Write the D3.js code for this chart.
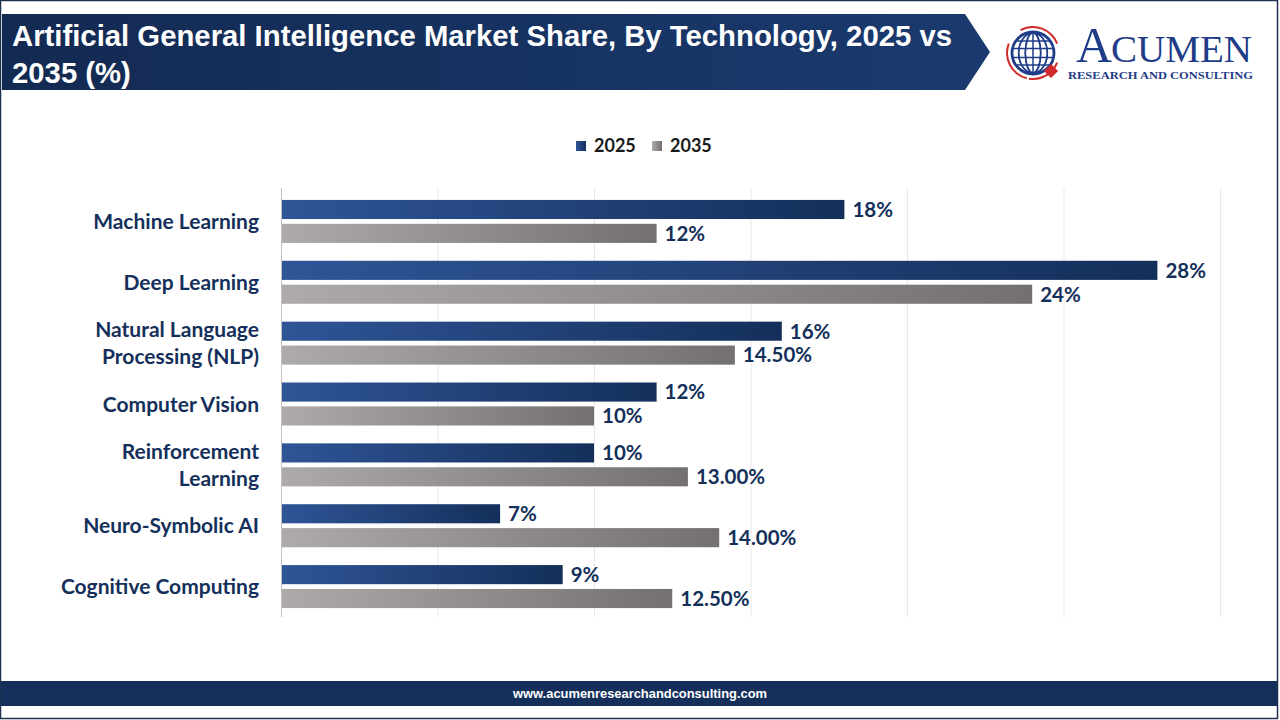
<!DOCTYPE html>
<html lang="en">
<head>
    <meta charset="utf-8">
    <title>AGI Market Share by Technology</title>
    <script type="text/javascript" src="https://d3js.org/d3.v7.min.js"></script>
    <style type="text/css">
        body { margin: 0; background: #fff; }
        svg { display: block; }
    </style>
</head>
<body>
    <script type="text/javascript">
        // chart data
        var categories = ["Machine Learning", "Deep Learning", "Natural Language Processing (NLP)",
            "Computer Vision", "Reinforcement Learning", "Neuro-Symbolic AI", "Cognitive Computing"];
        var categoryLines = [["Machine Learning"], ["Deep Learning"], ["Natural Language", "Processing (NLP)"],
            ["Computer Vision"], ["Reinforcement", "Learning"], ["Neuro-Symbolic AI"], ["Cognitive Computing"]];
        var seriesNames = ["2025", "2035"];
        var values2025 = [18, 28, 16, 12, 10, 7, 9];
        var values2035 = [12, 24, 14.5, 10, 13, 14, 12.5];
        var labels2025 = ["18%", "28%", "16%", "12%", "10%", "7%", "9%"];
        var labels2035 = ["12%", "24%", "14.50%", "10%", "13.00%", "14.00%", "12.50%"];
        var gridTicks = [0, 5, 10, 15, 20, 25, 30];

        var W = 1280, H = 720;
        var navy = "#14305a";
        var labelFont = "Lato, 'Open Sans', sans-serif";

        var svg = d3.select("body").append("svg")
            .attr("width", W)
            .attr("height", H);

        var defs = svg.append("defs");
        function grad(id, c0, c1) {
            var g = defs.append("linearGradient").attr("id", id)
                .attr("x1", "0%").attr("x2", "100%").attr("y1", "0%").attr("y2", "0%");
            g.append("stop").attr("offset", "0%").attr("stop-color", c0);
            g.append("stop").attr("offset", "100%").attr("stop-color", c1);
        }
        grad("g2025", "#2f5597", "#142f5a");
        grad("g2035", "#aeaaaa", "#747070");
        grad("gTitle", "#132a52", "#1a3a6e");

        // page border
        svg.append("rect")
            .attr("x", 0.5).attr("y", 0.5)
            .attr("width", W - 3).attr("height", H - 2)
            .attr("fill", "none")
            .attr("stroke", "#1f3350")
            .attr("stroke-width", 1.5);

        // title banner
        svg.append("path")
            .attr("d", "M2,14 L965,14 L990,52 L965,90 L2,90 Z")
            .attr("fill", "url(#gTitle)");

        var title = svg.append("text")
            .attr("font-family", "'Liberation Sans', Arial, sans-serif")
            .attr("font-weight", "bold")
            .attr("font-size", 29.3)
            .attr("fill", "#fff");
        title.append("tspan").attr("x", 12).attr("y", 46)
            .text("Artificial General Intelligence Market Share, By Technology, 2025 vs");
        title.append("tspan").attr("x", 12).attr("y", 83)
            .text("2035 (%)");

        // logo
        var logoBlue = "#1f3c88";
        var logo = svg.append("g").attr("transform", "translate(1033,53)");
        logo.append("circle").attr("r", 21).attr("fill", "#fff").attr("stroke", logoBlue).attr("stroke-width", 2.8);
        [-13, -6, 6, 13].forEach(function (d) {
            logo.append("ellipse").attr("rx", Math.abs(d) * 0.95 + 2).attr("ry", 20)
                .attr("fill", "none").attr("stroke", logoBlue).attr("stroke-width", 1.5);
        });
        logo.append("line").attr("y1", -20).attr("y2", 20).attr("stroke", logoBlue).attr("stroke-width", 1.5);
        [-12, -4.5, 4.5, 12].forEach(function (d) {
            var hw = Math.sqrt(21 * 21 - d * d);
            logo.append("line").attr("x1", -hw).attr("x2", hw).attr("y1", d).attr("y2", d)
                .attr("stroke", logoBlue).attr("stroke-width", 1.5);
        });
        var arcGen = d3.arc().innerRadius(25).outerRadius(27);
        [[-2.9, -1.2], [-0.5, 1.2], [1.95, 3.3]].forEach(function (a) {
            logo.append("path").attr("d", arcGen({ startAngle: a[0], endAngle: a[1] }))
                .attr("fill", "#d02b2b");
        });
        logo.append("rect").attr("x", 13).attr("y", 13).attr("width", 10).attr("height", 10)
            .attr("transform", "rotate(45,18,18)").attr("fill", "#d02b2b");

        svg.append("text")
            .attr("x", 1076).attr("y", 62)
            .attr("font-family", "'Liberation Serif', 'DejaVu Serif', serif")
            .attr("font-size", 50)
            .attr("fill", logoBlue)
            .text("A");
        svg.append("text")
            .attr("x", 1111).attr("y", 62)
            .attr("font-family", "'Liberation Serif', 'DejaVu Serif', serif")
            .attr("font-size", 37)
            .attr("textLength", 141)
            .attr("lengthAdjust", "spacingAndGlyphs")
            .attr("fill", logoBlue)
            .text("CUMEN");
        svg.append("text")
            .attr("x", 1068).attr("y", 79)
            .attr("font-family", "'Liberation Serif', 'DejaVu Serif', serif")
            .attr("font-weight", "bold")
            .attr("font-size", 10.5)
            .attr("textLength", 185)
            .attr("lengthAdjust", "spacingAndGlyphs")
            .attr("fill", logoBlue)
            .text("RESEARCH AND CONSULTING");

        // legend
        var legend = svg.append("g").attr("transform", "translate(576,140)");
        var legendX = [0, 76];
        seriesNames.forEach(function (s, i) {
            legend.append("rect").attr("x", legendX[i]).attr("y", 1)
                .attr("width", 10).attr("height", 10)
                .attr("fill", i === 0 ? "url(#g2025)" : "url(#g2035)");
            legend.append("text").attr("x", legendX[i] + 18).attr("y", 12)
                .attr("font-family", labelFont).attr("font-weight", "bold")
                .attr("font-size", 18).attr("fill", "#1a1a1a")
                .text(s);
        });

        // scales
        var xScale = d3.scaleLinear().domain([0, 30]).range([281, 1220]);
        var yScale = d3.scaleBand().domain(categories).range([191, 617]);
        var inner = d3.scaleBand().domain(seriesNames).range([0, 43]).paddingInner(0.2);
        var groupOffset = (yScale.bandwidth() - 43) / 2;

        // gridlines
        svg.append("g").selectAll("line")
            .data(gridTicks)
            .enter()
            .append("line")
            .attr("x1", function (d) { return xScale(d) + 0.5; })
            .attr("x2", function (d) { return xScale(d) + 0.5; })
            .attr("y1", 188).attr("y2", 617)
            .attr("stroke", function (d) { return d === 0 ? "#bfbfbf" : "#e8e8e8"; })
            .attr("stroke-width", 1);

        // bars
        var rows = categories.map(function (c, i) {
            return { cat: c, lines: categoryLines[i], vals: [values2025[i], values2035[i]], labs: [labels2025[i], labels2035[i]] };
        });

        var groups = svg.append("g").selectAll("g")
            .data(rows)
            .enter()
            .append("g")
            .attr("transform", function (d) { return "translate(0," + (yScale(d.cat) + groupOffset) + ")"; });

        seriesNames.forEach(function (s, k) {
            groups.append("rect")
                .attr("x", xScale(0) + 1)
                .attr("y", inner(s))
                .attr("width", function (d) { return xScale(d.vals[k]) - xScale(0) - 1; })
                .attr("height", inner.bandwidth())
                .attr("fill", k === 0 ? "url(#g2025)" : "url(#g2035)");
            groups.append("text")
                .attr("x", function (d) { return xScale(d.vals[k]) + 8; })
                .attr("y", inner(s) + inner.bandwidth() / 2)
                .attr("dy", "0.36em")
                .attr("font-family", labelFont).attr("font-weight", "bold")
                .attr("font-size", 20.5).attr("fill", navy)
                .text(function (d) { return d.labs[k]; });
        });

        // category labels
        groups.append("text")
            .attr("text-anchor", "end")
            .attr("font-family", labelFont).attr("font-weight", "bold")
            .attr("font-size", 21).attr("fill", navy)
            .each(function (d) {
                var t = d3.select(this);
                var n = d.lines.length;
                d.lines.forEach(function (line, j) {
                    t.append("tspan")
                        .attr("x", 259)
                        .attr("y", 21.5 + (j - (n - 1) / 2) * 27)
                        .attr("dy", "0.36em")
                        .text(line);
                });
            });

        // footer
        svg.append("rect")
            .attr("x", 1).attr("y", 681)
            .attr("width", W - 4).attr("height", 25)
            .attr("fill", "#14305a");
        svg.append("text")
            .attr("x", 513).attr("y", 698)
            .attr("font-family", "'Liberation Sans', Arial, sans-serif")
            .attr("font-weight", "bold")
            .attr("font-size", 13)
            .attr("textLength", 254)
            .attr("lengthAdjust", "spacingAndGlyphs")
            .attr("fill", "#fff")
            .text("www.acumenresearchandconsulting.com");
    </script>
</body>
</html>
